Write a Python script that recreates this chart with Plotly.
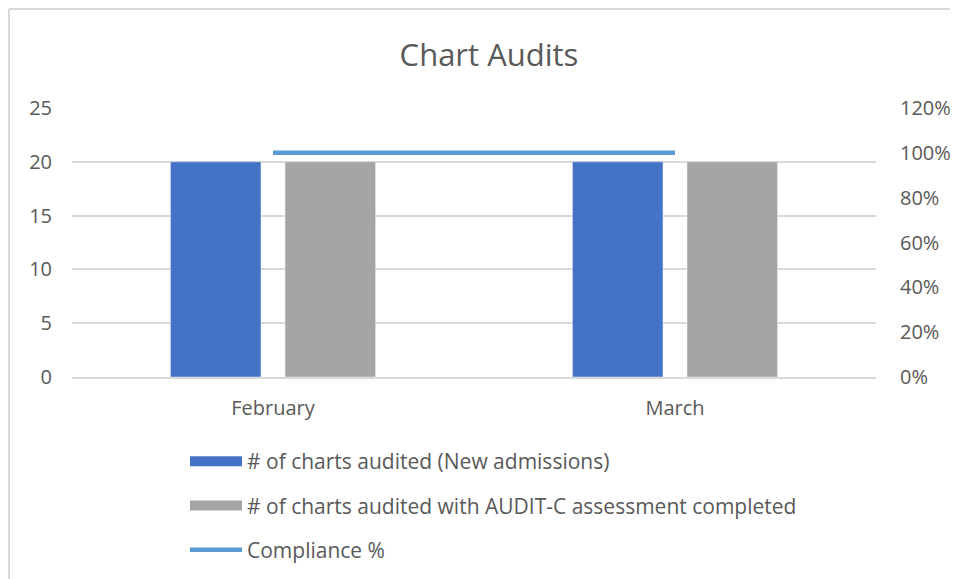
import plotly.graph_objects as go

months = ["February", "March"]
audited_new = [20, 20]
audited_auditc = [20, 20]
compliance = [1.0, 1.0]

name_new = "# of charts audited (New admissions)"
name_auditc = "# of charts audited with AUDIT-C assessment completed"
name_comp = "Compliance %"

blue = "#4472C4"
gray = "#A5A5A5"
lineblue = "#5B9BD5"

# figure is placed 8px into the page by the browser's body margin
W, H = 950, 571
L, R, T, B = 64, 82, 100, 202
pw, ph = W - L - R, H - T - B

def px_x(px):
    return (px - L) / pw

def px_y(py):
    return (H - B - py) / ph

text_color = "#595959"
font_family = "'Open Sans', sans-serif"

fig = go.Figure()
fig.add_trace(go.Bar(x=months, y=audited_new, name=name_new, marker_color=blue,
                     showlegend=False))
fig.add_trace(go.Bar(x=months, y=audited_auditc, name=name_auditc, marker_color=gray,
                     showlegend=False))
fig.add_trace(go.Scatter(x=months, y=compliance, name=name_comp, mode="lines",
                         line=dict(color=lineblue, width=4.5), yaxis="y2",
                         showlegend=False))
# legend entries (wide rectangular keys like the original)
fig.add_trace(go.Scatter(x=[None], y=[None], name=name_new, mode="lines",
                         line=dict(color=blue, width=14), legendgroup="a"))
fig.add_trace(go.Scatter(x=[None], y=[None], name=name_auditc, mode="lines",
                         line=dict(color=gray, width=14), legendgroup="b"))
fig.add_trace(go.Scatter(x=[None], y=[None], name=name_comp, mode="lines",
                         line=dict(color=lineblue, width=4.5), legendgroup="c", yaxis="y2"))

fig.update_layout(
    width=W, height=H,
    margin=dict(l=L, r=R, t=T, b=B, autoexpand=False),
    paper_bgcolor="white", plot_bgcolor="white",
    font=dict(family=font_family, color=text_color, size=20),
    title=dict(text="Chart Audits", x=481 / W, xanchor="center", y=1 - 47 / H, yanchor="middle",
               font=dict(size=31, color=text_color)),
    barmode="group", bargap=0.43, bargroupgap=0.21,
    xaxis=dict(showgrid=False, showline=True, linecolor="#D9D9D9", linewidth=1.5,
               ticks="", ticklabelstandoff=12, tickfont=dict(size=20)),
    yaxis=dict(range=[0, 25], dtick=5, showgrid=True, gridcolor="#D9D9D9", gridwidth=1.5,
               zeroline=False, ticks="", ticklabelstandoff=19, tickfont=dict(size=20)),
    yaxis2=dict(range=[0, 1.2], dtick=0.2, tickformat=".0%", overlaying="y", side="right",
                showgrid=False, zeroline=False, ticks="", ticklabelstandoff=23,
                tickfont=dict(size=20)),
    showlegend=True,
    legend=dict(orientation="v", x=px_x(177), xanchor="left", y=px_y(433), yanchor="top",
                font=dict(size=21, color=text_color), tracegroupgap=14,
                itemwidth=52, bgcolor="rgba(0,0,0,0)", traceorder="grouped"),
    shapes=[
        dict(type="line", xref="paper", yref="paper", x0=px_x(1), x1=px_x(W + 5),
             y0=px_y(1), y1=px_y(1), line=dict(color="#D9D9D9", width=2)),
        dict(type="line", xref="paper", yref="paper", x0=px_x(1), x1=px_x(1),
             y0=px_y(1), y1=px_y(H + 5), line=dict(color="#D9D9D9", width=2)),
    ],
)

fig.write_html("out.html")
